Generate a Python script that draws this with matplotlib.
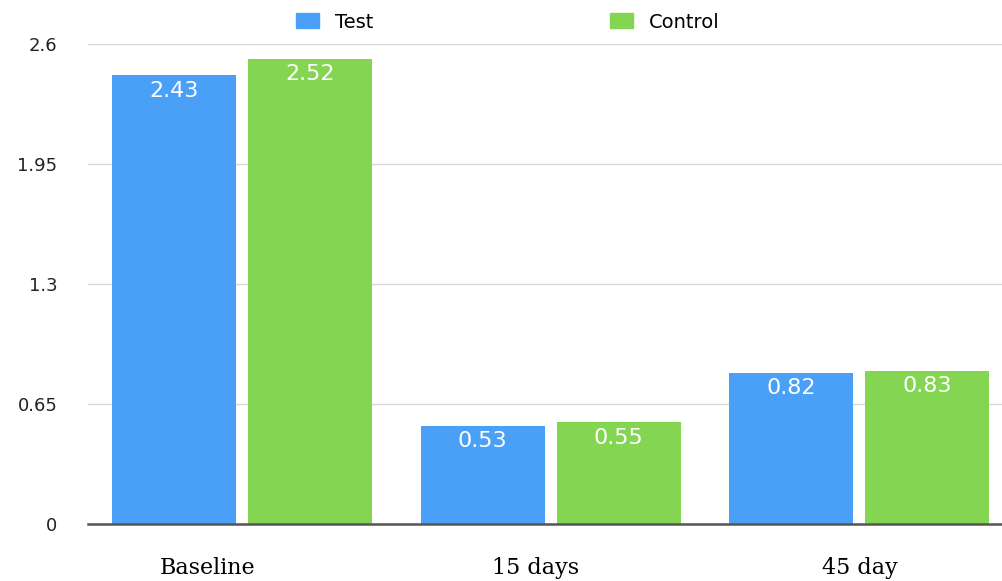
import matplotlib
matplotlib.use("Agg")
import matplotlib.pyplot as plt
import matplotlib.transforms as mtransforms
import numpy as np
from matplotlib.patches import Patch

categories = ["Baseline", "15 days", "45 day"]
test_vals = [2.43, 0.53, 0.82]
control_vals = [2.52, 0.55, 0.83]
yticks = [0, 0.65, 1.3, 1.95, 2.6]
ytick_labels = ["0", "0.65", "1.3", "1.95", "2.6"]

blue = "#4AA0F6"
green = "#84D552"

W, H = 1003, 581
fig = plt.figure(figsize=(W / 100, H / 100), dpi=100)
left, right, top, bottom = 88, 1013.5, 44, 524
ax = fig.add_axes([left / W, (H - bottom) / H, (right - left) / W, (bottom - top) / H])

x = np.arange(len(categories))
bw = 124 / 308.5
off = 68 / 308.5
b1 = ax.bar(x - off, test_vals, bw, color=blue, zorder=2)
b2 = ax.bar(x + off, control_vals, bw, color=green, zorder=2)

for bars, vals in ((b1, test_vals), (b2, control_vals)):
    for r, v in zip(bars, vals):
        ax.annotate(f"{v:.2f}", (r.get_x() + r.get_width() / 2, v),
                    xytext=(0, -11), textcoords="offset points",
                    ha="center", va="center", color="white",
                    fontsize=16, family="DejaVu Sans", zorder=3)

ax.set_xlim(-0.5, 2.5)
ax.set_ylim(0, 2.6)
ax.set_yticks(yticks)
ax.set_yticklabels(ytick_labels, family="DejaVu Sans", fontsize=13, color="#222222")
ax.set_xticks(x)
ax.set_xticklabels(categories, family="DejaVu Serif", fontsize=16)
ax.tick_params(axis="y", length=0, pad=22)
ax.tick_params(axis="x", length=0, pad=24)

# category labels sit slightly left of their group centres
label_shift_px = [-35, -15, 1]
for lbl, dx in zip(ax.get_xticklabels(), label_shift_px):
    lbl.set_transform(lbl.get_transform() +
                      mtransforms.ScaledTranslation(dx / 100, 0, fig.dpi_scale_trans))

ax.grid(axis="y", color="#d8d8d8", linewidth=1, zorder=0)
for s in ("top", "right", "left"):
    ax.spines[s].set_visible(False)
ax.spines["bottom"].set_color("#555555")
ax.spines["bottom"].set_linewidth(1.8)
ax.spines["bottom"].set_zorder(4)

handles = [Patch(color=blue, label="Test"), Patch(color=green, label="Control")]
fig.legend(handles=handles, loc="center", bbox_to_anchor=(508 / W, 1 - 22 / H),
           ncol=2, frameon=False, prop={"family": "DejaVu Sans", "size": 14},
           handlelength=1.18, handleheight=0.82, handletextpad=0.82, columnspacing=12.2)

fig.savefig("out.png", dpi=100)
